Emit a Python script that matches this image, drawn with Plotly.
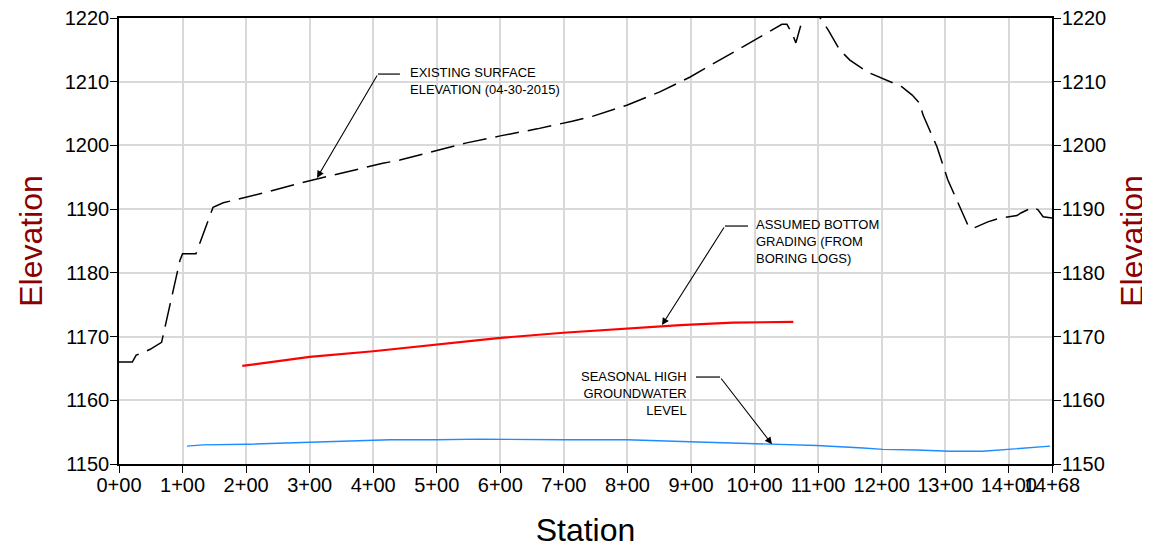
import plotly.graph_objects as go

# ---- data ----
surface_sta = [0, 21, 27, 33, 49, 67, 96, 100, 121, 148, 164, 230, 285, 308, 327, 415, 442, 500, 547, 600, 658,
               713, 746, 799, 851, 898, 950, 1001, 1019, 1043, 1051, 1059, 1065, 1069, 1076, 1095, 1116, 1134,
               1150, 1178, 1197, 1232, 1248, 1260, 1265, 1287, 1304, 1328, 1337, 1344, 1367, 1386, 1413, 1419,
               1438, 1446, 1454, 1468]
surface_elev = [1166.0, 1166.0, 1167.1, 1167.3, 1168.0, 1169.1, 1182.0, 1183.0, 1183.0, 1190.3, 1191.0, 1192.6,
                1194.1, 1194.7, 1195.1, 1197.2, 1197.7, 1199.2, 1200.4, 1201.5, 1202.6, 1203.8, 1204.6, 1206.3,
                1208.4, 1210.7, 1213.7, 1216.6, 1217.6, 1219.0, 1219.0, 1217.6, 1216.1, 1217.6, 1220.0, 1221.2,
                1218.1, 1215.0, 1213.4, 1211.5, 1210.7, 1209.2, 1207.9, 1206.6, 1204.8, 1199.8, 1194.6, 1189.4,
                1187.2, 1187.0, 1188.0, 1188.6, 1189.0, 1189.4, 1190.3, 1189.9, 1188.8, 1188.6]

bottom_sta = [194, 300, 400, 500, 600, 699, 801, 883, 966, 1061]
bottom_elev = [1165.4, 1166.8, 1167.7, 1168.8, 1169.8, 1170.6, 1171.3, 1171.8, 1172.2, 1172.3]

gw_sta = [107, 132, 201, 300, 400, 427, 500, 568, 699, 799, 898, 1027, 1098, 1171, 1202, 1255, 1307, 1359,
          1402, 1465]
gw_elev = [1152.8, 1153.0, 1153.1, 1153.4, 1153.6, 1153.8, 1153.8, 1153.9, 1153.8, 1153.8, 1153.5, 1153.1,
           1152.9, 1152.5, 1152.3, 1152.2, 1152.0, 1152.0, 1152.3, 1152.8]

x_tickvals = [0, 100, 200, 300, 400, 500, 600, 700, 800, 900, 1000, 1100, 1200, 1300, 1400, 1468]
x_ticktext = ["0+00", "1+00", "2+00", "3+00", "4+00", "5+00", "6+00", "7+00", "8+00", "9+00", "10+00",
              "11+00", "12+00", "13+00", "14+00", "14+68"]
y_tickvals = [1150, 1160, 1170, 1180, 1190, 1200, 1210, 1220]

# callouts: text, text position, anchor, knee, leader end, arrow tip
callouts = [
    dict(text="EXISTING SURFACE<br>ELEVATION (04-30-2015)", tx=456, ty=1210.1, xanchor="left", align="left",
         knee=(407.5, 1211.2), lead=(442, 1211.2), tip=(311.5, 1194.9)),
    dict(text="ASSUMED BOTTOM<br>GRADING (FROM<br>BORING LOGS)", tx=1001, ty=1184.9, xanchor="left", align="left",
         knee=(953.4, 1187.35), lead=(989.6, 1187.35), tip=(854.3, 1171.8)),
    dict(text="SEASONAL HIGH<br>GROUNDWATER<br>LEVEL", tx=896, ty=1161.1, xanchor="right", align="right",
         knee=(945.6, 1163.65), lead=(907.8, 1163.65), tip=(1027.4, 1153.1)),
]

FONT = "Liberation Sans, Arial, sans-serif"

fig = go.Figure()
fig.add_trace(go.Scatter(x=surface_sta, y=surface_elev, mode="lines",
                         line=dict(color="black", width=1.5, dash="24px,9px"),
                         showlegend=False, hoverinfo="skip"))
fig.add_trace(go.Scatter(x=bottom_sta, y=bottom_elev, mode="lines",
                         line=dict(color="#ff0000", width=2.2), showlegend=False, hoverinfo="skip"))
fig.add_trace(go.Scatter(x=gw_sta, y=gw_elev, mode="lines", yaxis="y2",
                         line=dict(color="#1e8cff", width=1.4), showlegend=False, hoverinfo="skip"))

for c in callouts:
    fig.add_annotation(x=c["tx"], y=c["ty"], xref="x", yref="y", text=c["text"], showarrow=False,
                       xanchor=c["xanchor"], yanchor="middle", align=c["align"],
                       font=dict(family=FONT, size=13, color="black"), borderpad=0)
    fig.add_shape(type="line", xref="x", yref="y", x0=c["knee"][0], y0=c["knee"][1],
                  x1=c["lead"][0], y1=c["lead"][1], line=dict(color="black", width=1.2))
    fig.add_annotation(x=c["tip"][0], y=c["tip"][1], xref="x", yref="y", ax=c["knee"][0], ay=c["knee"][1],
                       axref="x", ayref="y", text="", showarrow=True, arrowhead=2, arrowsize=1.3,
                       arrowwidth=1.1, arrowcolor="black", standoff=0, startstandoff=0)

axis_common = dict(showline=True, linecolor="black", linewidth=1.5, ticks="outside", ticklen=7,
                   tickcolor="black", tickwidth=1.2, tickfont=dict(family=FONT, size=20, color="black"),
                   zeroline=False, automargin=False, ticklabeloverflow="allow")

fig.update_layout(
    width=1142, height=542,
    margin=dict(l=111, r=98, t=10, b=86),
    paper_bgcolor="white", plot_bgcolor="white",
    xaxis=dict(range=[0, 1468], tickmode="array", tickvals=x_tickvals, ticktext=x_ticktext, tickangle=0,
               showgrid=True, gridcolor="#d9d9d9", gridwidth=1.6, mirror=True, ticklabelstandoff=-5,
               title=dict(text="Station", font=dict(family=FONT, size=32, color="black"), standoff=24),
               **axis_common),
    yaxis=dict(range=[1150, 1220], tickmode="array", tickvals=y_tickvals, ticklabelstandoff=-3,
               showgrid=True, gridcolor="#d9d9d9", gridwidth=1.6,
               title=dict(text="Elevation", font=dict(family=FONT, size=32, color="#8b0000"), standoff=13),
               **axis_common),
    yaxis2=dict(range=[1150, 1220], tickmode="array", tickvals=y_tickvals, overlaying="y", side="right",
                showgrid=False, ticklabelstandoff=-3,
                title=dict(text="Elevation", font=dict(family=FONT, size=32, color="#8b0000"), standoff=16),
                **axis_common),
)

fig.write_html("out.html")
